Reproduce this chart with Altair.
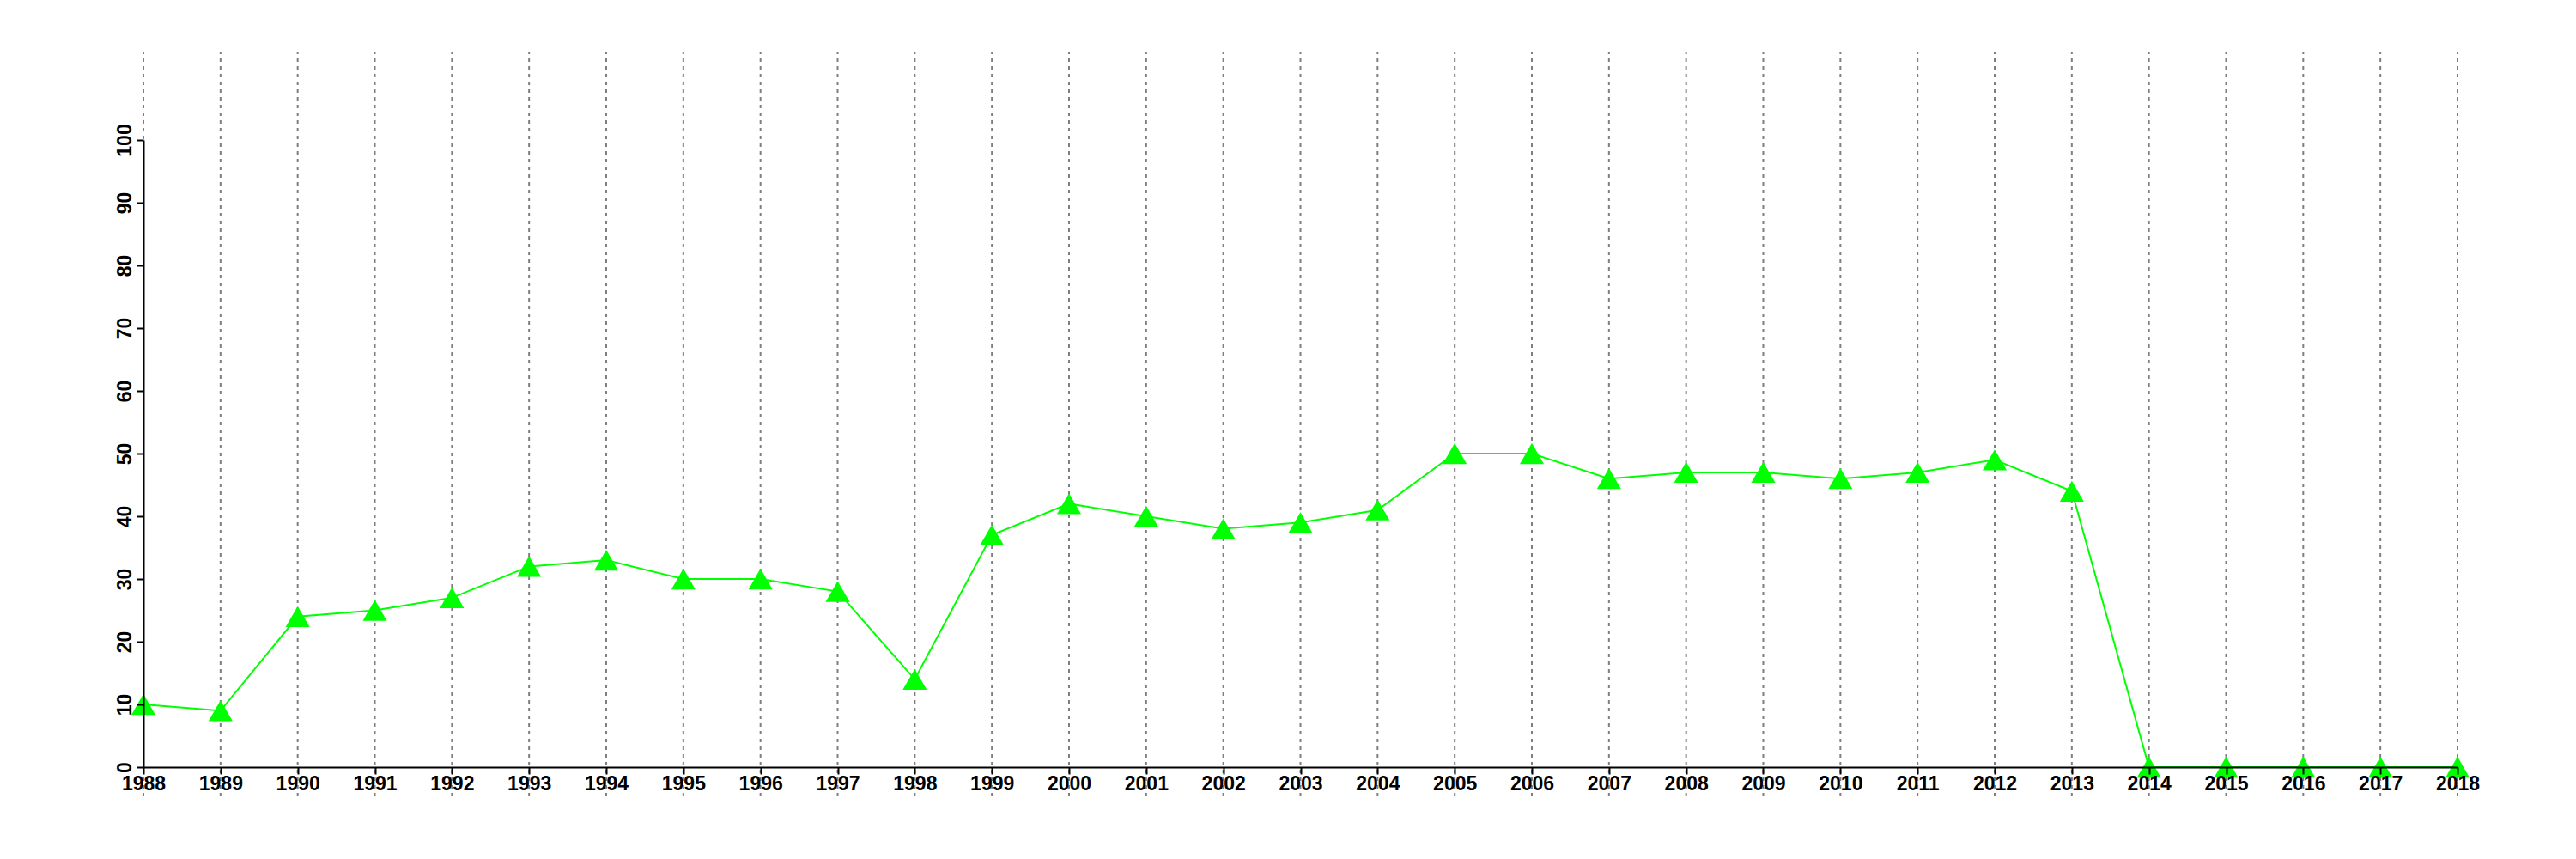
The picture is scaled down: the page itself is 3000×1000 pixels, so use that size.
import altair as alt
import pandas as pd

years = list(range(1988, 2019))
values = [10, 9, 24, 25, 27, 32, 33, 30, 30, 28, 14, 37, 42, 40, 38, 39, 41,
          50, 50, 46, 47, 47, 46, 47, 49, 44, 0, 0, 0, 0, 0]
y_ticks = list(range(0, 101, 10))

df = pd.DataFrame({"year": years, "value": values})
grid_df = pd.DataFrame({"year": years, "lo": [-4.66] * len(years), "hi": [114.1] * len(years)})

FONT = "Liberation Sans"
GREEN = "#00ff00"
FS = 23

xscale = alt.Scale(domain=[1988, 2018], nice=False, zero=False)
yscale = alt.Scale(domain=[0, 100], nice=False, zero=True)

xaxis = alt.Axis(values=years, format="d", title=None, grid=False, labelFlush=False,
                 labelOverlap=False, tickSize=8, tickWidth=2, tickColor="black",
                 domainColor="black", domainWidth=2, labelFont=FONT, labelFontSize=FS,
                 labelFontWeight="bold", labelColor="black", labelPadding=0,
                 labelBaseline="top", zindex=1)
yaxis = alt.Axis(values=y_ticks, format="d", title=None, grid=False, labelFlush=False,
                 labelOverlap=False, tickSize=8, tickWidth=2, tickColor="black",
                 domainColor="black", domainWidth=2, labelFont=FONT, labelFontSize=FS,
                 labelFontWeight="bold", labelColor="black", labelAngle=270,
                 labelAlign="center", labelBaseline="alphabetic", labelPadding=7, zindex=1)

grid = alt.Chart(grid_df).mark_rule(color="#7f7f7f", strokeWidth=2, strokeDash=[4, 5], clip=False).encode(
    x=alt.X("year:Q", scale=xscale, axis=xaxis),
    y=alt.Y("lo:Q", scale=yscale, axis=yaxis),
    y2="hi:Q",
)

line = alt.Chart(df).mark_line(color=GREEN, strokeWidth=2, clip=False).encode(
    x=alt.X("year:Q", scale=xscale, axis=xaxis),
    y=alt.Y("value:Q", scale=yscale, axis=yaxis),
)

points = alt.Chart(df).mark_point(shape="triangle-up", filled=True, color=GREEN, opacity=1,
                                  size=790, clip=False).encode(
    x=alt.X("year:Q", scale=xscale, axis=xaxis),
    y=alt.Y("value:Q", scale=yscale, axis=yaxis),
)

chart = alt.layer(grid, line, points).properties(
    width=2695, height=730,
    padding={"left": 159, "top": 155, "right": 120, "bottom": 90},
    autosize=alt.AutoSizeParams(type="none"),
    background="white",
).configure_view(strokeWidth=0)

chart.save("out.html", embed_options={"renderer": "svg", "actions": False})
